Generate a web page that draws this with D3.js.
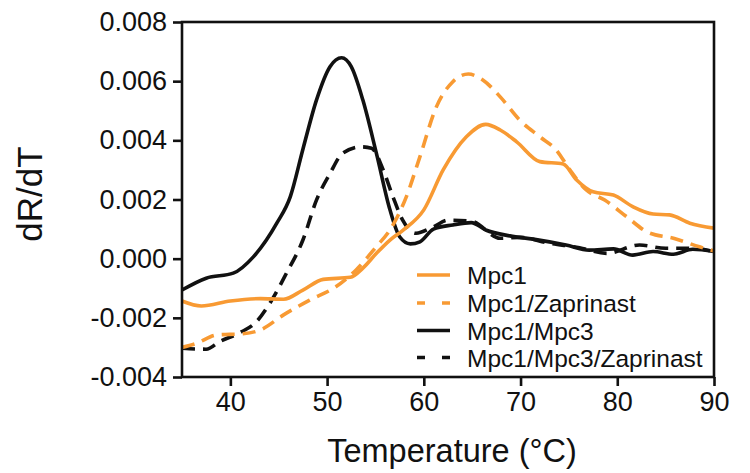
<!DOCTYPE html>
<html><head><meta charset="utf-8">
<script src="https://cdn.jsdelivr.net/npm/d3@7/dist/d3.min.js"></script>
<style>
html,body{margin:0;padding:0;background:#fff;}
svg{display:block;}
text{font-family:"Liberation Sans",Arial,sans-serif;fill:#111;}
</style></head>
<body><svg id="chart" width="750" height="473"></svg>
<script>
// ---- data ----
const xTicks = [40, 50, 60, 70, 80, 90];
const yTicks = [-0.004, -0.002, 0, 0.002, 0.004, 0.006, 0.008];
const seriesNames = ["Mpc1", "Mpc1/Zaprinast", "Mpc1/Mpc3", "Mpc1/Mpc3/Zaprinast"];

const mpc1T = [35,37,40,43.1,45.5,47.5,49.6,52.4,53.7,55.1,56.5,57.8,60,62,64.4,66.4,67.9,69.6,72,74.4,75.8,77.5,79.6,81.6,83.7,85.4,87.5,90];
const mpc1V = [-0.00143,-0.0016,-0.00143,-0.00135,-0.00137,-0.00106,-0.0007,-0.00063,-0.00032,0.00018,0.00063,0.00095,0.00165,0.003,0.00412,0.00454,0.00435,0.00395,0.00328,0.0032,0.00266,0.00226,0.00215,0.00176,0.00151,0.00148,0.0012,0.00103];

const mpc1ZapT = [35,36.5,38.6,41.3,43.1,45.5,48.2,50.9,53,55.1,56.5,58.2,59.6,61.3,63,64.6,66.1,67.9,69.9,72,73.7,75.1,76.8,78.7,81,83.1,85.9,88.5,90];
const mpc1ZapV = [-0.003,-0.00286,-0.00258,-0.00254,-0.00241,-0.0019,-0.0014,-0.00095,-0.00038,0.00041,0.00097,0.0021,0.00345,0.00513,0.00598,0.00624,0.00604,0.00547,0.00469,0.00412,0.00367,0.003,0.00232,0.00198,0.00141,0.0009,0.00068,0.0004,0.00026];

const mpc13T = [35,37.5,40.3,42.4,44.8,46.2,47.5,48.9,50.3,51.5,52.5,53.7,55.1,56.5,57.5,58.6,59.6,61,63,64.9,66.4,68.9,71.3,74.7,77.1,79.6,81.6,83.7,85.8,87.8,90];
const mpc13V = [-0.00106,-0.00066,-0.00049,0.00007,0.0012,0.0021,0.0037,0.00536,0.00649,0.00679,0.00649,0.00536,0.00356,0.00165,0.00074,0.0005,0.00057,0.001,0.00114,0.00122,0.00097,0.00077,0.00066,0.00046,0.00029,0.00033,0.00012,0.00024,0.00015,0.00032,0.00024];

const mpc13ZapT = [35,37.5,38.9,41,42.7,44.1,45.8,47.5,48.9,50.3,51.6,53.5,54.6,55.8,56.8,57.8,59.2,61,62.5,64.9,67.9,69.9,73,76.1,78.9,82.3,85,87.8,90];
const mpc13ZapV = [-0.00303,-0.00306,-0.0028,-0.0025,-0.00213,-0.0015,-0.00049,0.00063,0.00198,0.00288,0.00356,0.00378,0.00373,0.003,0.0021,0.00131,0.00086,0.00108,0.0013,0.00127,0.00069,0.00072,0.00052,0.00037,0.00018,0.00046,0.00035,0.00035,0.00024];

const ORANGE = "#f89a33", BLACK = "#111111";
const series = [
  {name: seriesNames[0], T: mpc1T, V: mpc1V, color: ORANGE, dash: null},
  {name: seriesNames[1], T: mpc1ZapT, V: mpc1ZapV, color: ORANGE, dash: "13,8"},
  {name: seriesNames[2], T: mpc13T, V: mpc13V, color: BLACK, dash: null},
  {name: seriesNames[3], T: mpc13ZapT, V: mpc13ZapV, color: BLACK, dash: "13,8"}
];

// ---- layout ----
const svg = d3.select("#chart");
const L = 182, R = 714, T = 22, B = 377;
const x = d3.scaleLinear().domain([35, 90]).range([L, R]);
const y = d3.scaleLinear().domain([-0.004, 0.008]).range([B, T]);

const fmt = v => d3.format(".3f")(v).replace("\u2212", "-");

svg.append("clipPath").attr("id","clip").append("rect")
  .attr("x", L).attr("y", T).attr("width", R-L).attr("height", B-T);

const line = d3.line().x(d => x(d[0])).y(d => y(d[1])).curve(d3.curveMonotoneX);

const gLines = svg.append("g").attr("clip-path","url(#clip)");
[3,2,1,0].forEach(i => {
  const s = series[i];
  gLines.append("path")
    .datum(s.T.map((t,j) => [t, s.V[j]]))
    .attr("d", line)
    .attr("fill","none")
    .attr("stroke", s.color)
    .attr("stroke-width", 3.6)
    .attr("stroke-dasharray", s.dash)
    .attr("stroke-linecap","butt")
    .attr("stroke-linejoin","round");
});

// frame
svg.append("rect").attr("x",L).attr("y",T).attr("width",R-L).attr("height",B-T)
  .attr("fill","none").attr("stroke",BLACK).attr("stroke-width",2.6);

// axes
const xAxis = d3.axisBottom(x).tickValues(xTicks).tickSize(9).tickPadding(6).tickFormat(d3.format("d"));
const gx = svg.append("g").attr("transform",`translate(0,${B})`).call(xAxis);
const yAxis = d3.axisLeft(y).tickValues(yTicks).tickSize(9).tickPadding(6).tickFormat(fmt);
const gy = svg.append("g").attr("transform",`translate(${L},0)`).call(yAxis);
[gx, gy].forEach(g => {
  g.select(".domain").remove();
  g.selectAll(".tick line").attr("stroke",BLACK).attr("stroke-width",2.6);
  g.selectAll(".tick text").attr("fill",BLACK)
    .style("font-family",'"Liberation Sans",Arial,sans-serif').style("font-size","27px");
});

// axis titles
svg.append("text").attr("x", 452).attr("y", 462).attr("text-anchor","middle")
  .style("font-size","32.5px").text("Temperature (°C)");
svg.append("text").attr("transform","translate(42,194) rotate(-90)").attr("text-anchor","middle")
  .style("font-size","35px").text("dR/dT");

// legend
const legY = [275, 303, 330.5, 357.5];
const legDash = [null, "8,17", null, "8,17"];
series.forEach((s, i) => {
  svg.append("line").attr("x1",417).attr("x2",450).attr("y1",legY[i]).attr("y2",legY[i])
    .attr("stroke",s.color).attr("stroke-width",3.6).attr("stroke-dasharray",legDash[i]);
  svg.append("text").attr("x",467).attr("y",legY[i]+9).style("font-size","24.5px").text(s.name);
});
</script></body></html>
